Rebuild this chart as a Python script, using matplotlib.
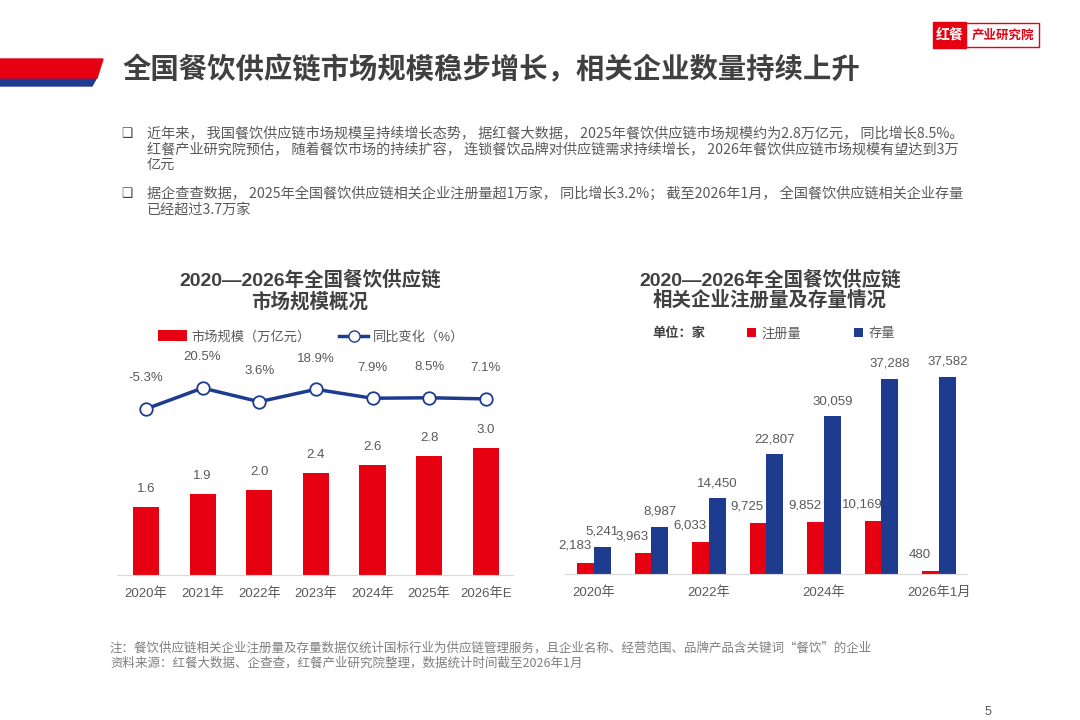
import numpy as np
import matplotlib.pyplot as plt
from matplotlib.patches import Polygon, Rectangle, Patch
from matplotlib.lines import Line2D

plt.rcParams['font.family'] = ['Liberation Sans', 'Noto Sans CJK SC', 'DejaVu Sans']

RED = '#E60012'
BLUE = '#1E3C8F'
GRAY = '#595959'
DARK = '#404040'

# left chart data
years = ['2020年', '2021年', '2022年', '2023年', '2024年', '2025年', '2026年E']
market_size = [1.6, 1.9, 2.0, 2.4, 2.6, 2.8, 3.0]
yoy = [-5.3, 20.5, 3.6, 18.9, 7.9, 8.5, 7.1]

# right chart data
periods = ['2020年', '2021年', '2022年', '2023年', '2024年', '2025年', '2026年1月']
registered = [2183, 3963, 6033, 9725, 9852, 10169, 480]
stock = [5241, 8987, 14450, 22807, 30059, 37288, 37582]

W, H = 1080, 720


def fx(x):
    return x / W


def fy(y):
    return 1 - y / H


fig = plt.figure(figsize=(10.8, 7.2), dpi=100)

# header stripe
fig.add_artist(Polygon([(fx(0), fy(77)), (fx(97), fy(77)), (fx(92), fy(86)), (fx(0), fy(86))],
                       closed=True, color=BLUE, transform=fig.transFigure))
fig.add_artist(Polygon([(fx(0), fy(59)), (fx(103), fy(59)), (fx(97), fy(78)), (fx(0), fy(78))],
                       closed=True, color=RED, transform=fig.transFigure))
fig.text(fx(123), fy(70), '全国餐饮供应链市场规模稳步增长，相关企业数量持续上升',
         family=['Noto Sans CJK SC'], fontsize=20.4, fontweight='bold', color=DARK, va='center')

# logo
fig.add_artist(Rectangle((fx(933), fy(48)), 33 / W, 26 / H, color=RED, transform=fig.transFigure))
fig.add_artist(Rectangle((fx(966), fy(47)), 73 / W, 24 / H, facecolor='white', edgecolor=RED,
                         lw=1, transform=fig.transFigure))
fig.text(fx(949.5), fy(35), '红餐', family=['Noto Sans CJK SC'], fontsize=10, fontweight='bold',
         color='white', ha='center', va='center')
fig.text(fx(1003), fy(35), '产业研究院', family=['Noto Sans CJK SC'], fontsize=9, fontweight='bold',
         color=RED, ha='center', va='center')

# bullet text
para = [
    (134, '近年来， 我国餐饮供应链市场规模呈持续增长态势， 据红餐大数据， 2025年餐饮供应链市场规模约为2.8万亿元， 同比增长8.5%。'),
    (150, '红餐产业研究院预估， 随着餐饮市场的持续扩容， 连锁餐饮品牌对供应链需求持续增长， 2026年餐饮供应链市场规模有望达到3万'),
    (165, '亿元'),
    (194, '据企查查数据， 2025年全国餐饮供应链相关企业注册量超1万家， 同比增长3.2%； 截至2026年1月， 全国餐饮供应链相关企业存量'),
    (210, '已经超过3.7万家'),
]
for y, s in para:
    fig.text(fx(147), fy(y), s, family=['Noto Sans CJK SC', 'DejaVu Sans'], fontsize=10.2,
             color=GRAY, va='center')
for y in (134, 194):
    fig.text(fx(127), fy(y), '❑', family=['DejaVu Sans'], fontsize=9, color=DARK,
             ha='center', va='center')

# ---- left chart ----
fig.text(fx(310), fy(280), '2020—2026年全国餐饮供应链', fontsize=14, fontweight='bold',
         color=DARK, ha='center', va='center')
fig.text(fx(310), fy(302), '市场规模概况', fontsize=14, fontweight='bold',
         color=DARK, ha='center', va='center')

ax1 = fig.add_axes([fx(117), fy(575), 396 / W, 235 / H])
x = np.arange(len(years))
ax1.bar(x, market_size, width=0.46, color=RED)
for xi, v in zip(x, market_size):
    ax1.annotate(f'{v:.1f}', (xi, v), xytext=(0, 13), textcoords='offset points',
                 ha='center', va='center', fontsize=9.5, color=GRAY)
ax1.set_xlim(-0.51, 6.48)
ax1.set_ylim(0, 235 / 42.4)
ax1.set_xticks(x)
ax1.set_xticklabels(years, fontsize=9.5, color=GRAY)
ax1.tick_params(axis='x', length=0, pad=9)
ax1.set_yticks([])
for side in ('top', 'right', 'left'):
    ax1.spines[side].set_visible(False)
ax1.spines['bottom'].set_color('#D9D9D9')

ax1b = ax1.twinx()
ax1b.plot(x, yoy, color=BLUE, lw=2.5, marker='o', markersize=9,
          markerfacecolor='white', markeredgecolor=BLUE, markeredgewidth=1.3)
for xi, v in zip(x, yoy):
    ax1b.annotate(f'{v:.1f}%', (xi, v), xytext=(0, 22), textcoords='offset points',
                  ha='center', va='center', fontsize=9.5, color=GRAY)
ax1b.set_ylim(-210.3, 79.8)
ax1b.set_yticks([])
for side in ax1b.spines:
    ax1b.spines[side].set_visible(False)

h1 = [Patch(facecolor=RED),
      Line2D([], [], color=BLUE, lw=2.5, marker='o', markersize=8,
             markerfacecolor='white', markeredgecolor=BLUE)]
ax1.legend(h1, ['市场规模（万亿元）', '同比变化（%）'], loc='center',
           bbox_to_anchor=(fx(311), fy(337)), bbox_transform=fig.transFigure,
           ncol=2, frameon=False, fontsize=9.5, labelcolor=GRAY,
           handlelength=2.2, handleheight=0.9, handletextpad=0.3, columnspacing=2.2)

# ---- right chart ----
fig.text(fx(770), fy(280), '2020—2026年全国餐饮供应链', fontsize=14, fontweight='bold',
         color=DARK, ha='center', va='center')
fig.text(fx(770), fy(300), '相关企业注册量及存量情况', fontsize=14, fontweight='bold',
         color=DARK, ha='center', va='center')

ax2 = fig.add_axes([fx(565), fy(574), 402 / W, 234 / H])
x2 = np.arange(len(periods))
bw = 0.29
ax2.bar(x2 - bw / 2, registered, width=bw, color=RED)
ax2.bar(x2 + bw / 2, stock, width=bw, color=BLUE)
for xi, v in zip(x2, registered):
    ax2.annotate(f'{v:,}', (xi - bw / 2, v), xytext=(-8, 12), textcoords='offset points',
                 ha='center', va='center', fontsize=9.5, color=GRAY)
for xi, v in zip(x2, stock):
    ax2.annotate(f'{v:,}', (xi + bw / 2, v), xytext=(0, 11), textcoords='offset points',
                 ha='center', va='center', fontsize=9.5, color=GRAY)
ax2.set_xlim(-0.504, 6.487)
ax2.set_ylim(0, 234 / 0.00524)
ax2.set_xticks(x2[::2])
ax2.set_xticklabels(periods[::2], fontsize=9.5, color=GRAY)
ax2.tick_params(axis='x', length=0, pad=9)
ax2.set_yticks([])
for side in ('top', 'right', 'left'):
    ax2.spines[side].set_visible(False)
ax2.spines['bottom'].set_color('#D9D9D9')

fig.text(fx(652), fy(334), '单位：家', fontsize=9.5, fontweight='bold', color=DARK, va='center')
ax2.legend([Patch(facecolor=RED), Patch(facecolor=BLUE)], ['注册量', '存量'], loc='center',
           bbox_to_anchor=(fx(821), fy(334)), bbox_transform=fig.transFigure,
           ncol=2, frameon=False, fontsize=9.5, labelcolor=GRAY,
           handlelength=0.7, handleheight=0.7, handletextpad=0.4, columnspacing=4.0)

# footnote
fig.text(fx(110), fy(648), '注：餐饮供应链相关企业注册量及存量数据仅统计国标行业为供应链管理服务，且企业名称、经营范围、品牌产品含关键词“餐饮”的企业',
         family=['Noto Sans CJK SC'], fontsize=9.0, color='#7F7F7F', va='center')
fig.text(fx(110), fy(663), '资料来源：红餐大数据、企查查，红餐产业研究院整理，数据统计时间截至2026年1月',
         family=['Noto Sans CJK SC'], fontsize=9.0, color='#7F7F7F', va='center')
fig.text(fx(988), fy(712), '5', fontsize=9, color=GRAY, ha='center', va='center')

fig.savefig('out.png', dpi=100)
